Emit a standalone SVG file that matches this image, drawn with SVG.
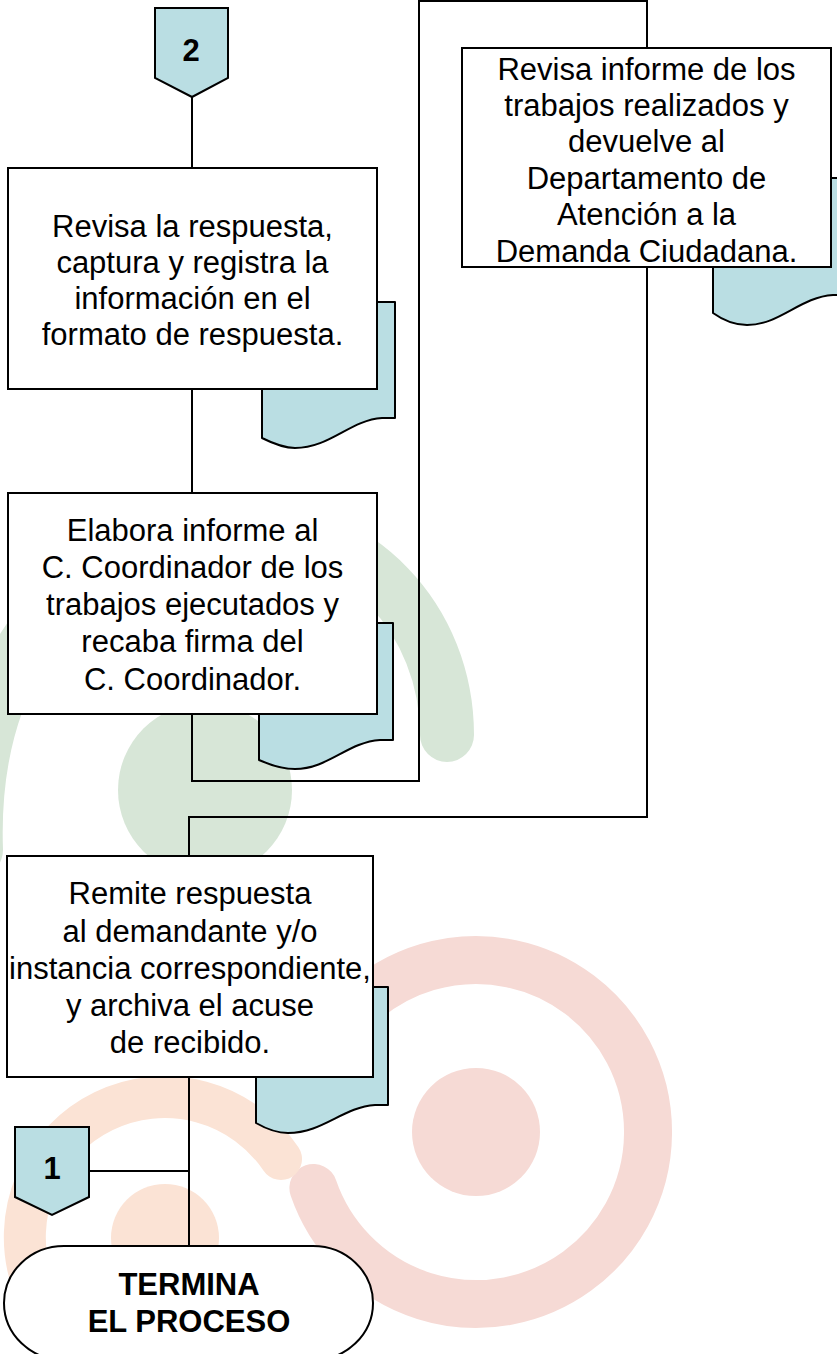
<svg xmlns="http://www.w3.org/2000/svg" width="837" height="1354" viewBox="0 0 837 1354">
<style>
.box{fill:#fff;stroke:#000;stroke-width:2}
.doc{fill:#badee3;stroke:#000;stroke-width:2;stroke-linejoin:round}
.off{fill:#badee3;stroke:#000;stroke-width:2}
.ln{fill:none;stroke:#000;stroke-width:2}
.t{font-family:"Liberation Sans",Arial,sans-serif;font-size:31px;fill:#000;text-anchor:middle}
.tb{font-family:"Liberation Sans",Arial,sans-serif;font-size:31px;font-weight:bold;fill:#000;text-anchor:middle}
</style>
<rect width="837" height="1354" fill="#fff"/>
<g id="watermark">
<path d="M-24,850 C-32,620 120,525 240,525 C360,525 447,620 447,735" fill="none" stroke="#d7e6d7" stroke-width="54" stroke-linecap="round"/>
<circle cx="205" cy="790" r="87" fill="#d7e6d7"/>
<path d="M314.4,1073.2 A172,172 0 1 1 313.4,1188" fill="none" stroke="#f6dad5" stroke-width="48" stroke-linecap="round"/>
<circle cx="476" cy="1132" r="64" fill="#f6dad5"/>
<path d="M281,1159 A140,140 0 1 0 189,1375" fill="none" stroke="#fbe3d5" stroke-width="42" stroke-linecap="round"/>
<circle cx="165" cy="1238" r="54" fill="#fbe3d5"/>
</g>
<g id="connectors">
<path class="ln" d="M192,97 V168"/>
<path class="ln" d="M192,389 V493"/>
<path class="ln" d="M192,714 V781 H419 V1 H647 V48"/>
<path class="ln" d="M647,267 V817 H189 V856"/>
<path class="ln" d="M189,1077 V1247"/>
<path class="ln" d="M89,1171 H189"/>
</g>
<g id="doc1"><path class="doc" d="M262,302 H395 V418 H382 C350,420 330,448 295,448 C282,448 270,442 262,438 Z"/></g>
<g id="doc2"><path class="doc" d="M259,623 H393 V740 H380 C348,742 328,769 295,769 C280,769 268,764 259,760 Z"/></g>
<g id="doc3"><path class="doc" d="M713,178 H846 V295 H833 C800,297 780,325 747,325 C732,325 720,318 713,313 Z"/></g>
<g id="doc4"><path class="doc" d="M256,987 H388 V1105 H375 C343,1107 323,1133 288,1133 C275,1133 263,1127 256,1123 Z"/></g>
<g id="off2"><path class="off" d="M155,8 H228 V78 L192,97 L155,78 Z"/><text class="tb" x="191" y="61">2</text></g>
<g id="off1"><path class="off" d="M15,1127 H89 V1197 L52,1215 L15,1197 Z"/><text class="tb" x="52" y="1179">1</text></g>
<g id="box1">
<rect class="box" x="8" y="168" width="369" height="221"/>
<text class="t"><tspan x="192.5" y="237">Revisa la respuesta,</tspan><tspan x="192.5" y="273">captura y registra la</tspan><tspan x="192.5" y="309">información en el</tspan><tspan x="192.5" y="345">formato de respuesta.</tspan></text>
</g>
<g id="box2">
<rect class="box" x="8" y="493" width="369" height="221"/>
<text class="t"><tspan x="192.5" y="541">Elabora informe al</tspan><tspan x="192.5" y="578">C. Coordinador de los</tspan><tspan x="192.5" y="615">trabajos ejecutados y</tspan><tspan x="192.5" y="652">recaba firma del</tspan><tspan x="192.5" y="690">C. Coordinador.</tspan></text>
</g>
<g id="box3">
<rect class="box" x="462" y="48" width="369" height="219"/>
<text class="t"><tspan x="646.5" y="80">Revisa informe de los</tspan><tspan x="646.5" y="116">trabajos realizados y</tspan><tspan x="646.5" y="152">devuelve al</tspan><tspan x="646.5" y="189">Departamento de</tspan><tspan x="646.5" y="225">Atención a la</tspan><tspan x="646.5" y="262">Demanda Ciudadana.</tspan></text>
</g>
<g id="box4">
<rect class="box" x="7" y="856" width="366" height="221"/>
<text class="t"><tspan x="190" y="904">Remite respuesta</tspan><tspan x="190" y="942">al demandante y/o</tspan><tspan x="190" y="979">instancia correspondiente,</tspan><tspan x="190" y="1016">y archiva el acuse</tspan><tspan x="190" y="1053">de recibido.</tspan></text>
</g>
<g id="end">
<rect class="box" x="4" y="1246" width="369" height="114" rx="60" ry="57"/>
<text class="tb"><tspan x="189" y="1295">TERMINA</tspan><tspan x="189" y="1332">EL PROCESO</tspan></text>
</g>
</svg>
